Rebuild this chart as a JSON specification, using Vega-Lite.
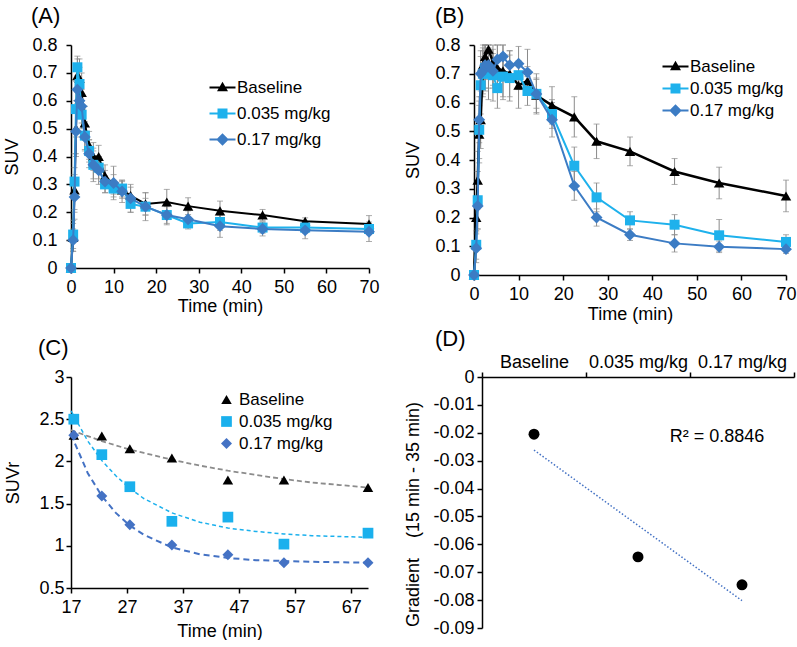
{
"$schema": "https://vega.github.io/schema/vega-lite/v6.json",
"background": "white",
"padding": {"left": 3, "top": 5, "right": 0, "bottom": 0},
"config": {
  "font": "Liberation Sans",
  "view": {"stroke": null},
  "axis": {"domainColor": "black", "domainWidth": 1.5, "tickColor": "black", "tickWidth": 1.5, "tickSize": 5, "labelFontSize": 18, "labelColor": "black", "titleFontSize": 18, "titleFontWeight": "normal", "titleColor": "black", "grid": false, "labelPadding": 4, "titlePadding": 4, "labelFlush": false, "labelOverlap": false},
  "axisY": {"labelPadding": 9, "titlePadding": 10},
  "axisX": {"labelPadding": 5},
  "title": {"anchor": "start", "frame": "group", "fontSize": 22, "fontWeight": "normal", "color": "black", "offset": 8},
  "legend": {"labelFontSize": 17, "labelColor": "black", "padding": 0}
},
"datasets": {
  "A": [
    {"t":0,"s":"Baseline","v":0,"e":0},{"t":0,"s":"0.035 mg/kg","v":0,"e":0},{"t":0,"s":"0.17 mg/kg","v":0,"e":0},
    {"t":0.5,"s":"Baseline","v":0.11,"e":0.05},{"t":0.5,"s":"0.035 mg/kg","v":0.12,"e":0.05},{"t":0.5,"s":"0.17 mg/kg","v":0.10,"e":0.04},
    {"t":0.83,"s":"Baseline","v":0.28,"e":0.08},{"t":0.83,"s":"0.035 mg/kg","v":0.31,"e":0.1},{"t":0.83,"s":"0.17 mg/kg","v":0.255,"e":0.08},
    {"t":1.17,"s":"Baseline","v":0.50,"e":0.1},{"t":1.17,"s":"0.035 mg/kg","v":0.57,"e":0.1},{"t":1.17,"s":"0.17 mg/kg","v":0.49,"e":0.08},
    {"t":1.5,"s":"Baseline","v":0.69,"e":0.06},{"t":1.5,"s":"0.035 mg/kg","v":0.72,"e":0.04},{"t":1.5,"s":"0.17 mg/kg","v":0.64,"e":0.05},
    {"t":2,"s":"Baseline","v":0.68,"e":0.07},{"t":2,"s":"0.035 mg/kg","v":0.66,"e":0.06},{"t":2,"s":"0.17 mg/kg","v":0.60,"e":0.05},
    {"t":2.5,"s":"Baseline","v":0.63,"e":0.07},{"t":2.5,"s":"0.035 mg/kg","v":0.55,"e":0.05},{"t":2.5,"s":"0.17 mg/kg","v":0.58,"e":0.06},
    {"t":3.25,"s":"Baseline","v":0.52,"e":0.06},{"t":3.25,"s":"0.035 mg/kg","v":0.475,"e":0.05},{"t":3.25,"s":"0.17 mg/kg","v":0.47,"e":0.05},
    {"t":4.25,"s":"Baseline","v":0.44,"e":0.05},{"t":4.25,"s":"0.035 mg/kg","v":0.42,"e":0.04},{"t":4.25,"s":"0.17 mg/kg","v":0.41,"e":0.05},
    {"t":5.25,"s":"Baseline","v":0.40,"e":0.05},{"t":5.25,"s":"0.035 mg/kg","v":0.37,"e":0.05},{"t":5.25,"s":"0.17 mg/kg","v":0.37,"e":0.06},
    {"t":6.5,"s":"Baseline","v":0.40,"e":0.04},{"t":6.5,"s":"0.035 mg/kg","v":0.36,"e":0.04},{"t":6.5,"s":"0.17 mg/kg","v":0.35,"e":0.05},
    {"t":8,"s":"Baseline","v":0.33,"e":0.04},{"t":8,"s":"0.035 mg/kg","v":0.30,"e":0.03},{"t":8,"s":"0.17 mg/kg","v":0.31,"e":0.04},
    {"t":10,"s":"Baseline","v":0.30,"e":0.035},{"t":10,"s":"0.035 mg/kg","v":0.285,"e":0.03},{"t":10,"s":"0.17 mg/kg","v":0.305,"e":0.06},
    {"t":12,"s":"Baseline","v":0.28,"e":0.03},{"t":12,"s":"0.035 mg/kg","v":0.285,"e":0.03},{"t":12,"s":"0.17 mg/kg","v":0.275,"e":0.04},
    {"t":14,"s":"Baseline","v":0.26,"e":0.03},{"t":14,"s":"0.035 mg/kg","v":0.23,"e":0.03},{"t":14,"s":"0.17 mg/kg","v":0.25,"e":0.05},
    {"t":17.5,"s":"Baseline","v":0.23,"e":0.04},{"t":17.5,"s":"0.035 mg/kg","v":0.22,"e":0.03},{"t":17.5,"s":"0.17 mg/kg","v":0.22,"e":0.05},
    {"t":22.5,"s":"Baseline","v":0.237,"e":0.045},{"t":22.5,"s":"0.035 mg/kg","v":0.19,"e":0.03},{"t":22.5,"s":"0.17 mg/kg","v":0.19,"e":0.035},
    {"t":27.5,"s":"Baseline","v":0.222,"e":0.03},{"t":27.5,"s":"0.035 mg/kg","v":0.16,"e":0.02},{"t":27.5,"s":"0.17 mg/kg","v":0.175,"e":0.03},
    {"t":35,"s":"Baseline","v":0.205,"e":0.035},{"t":35,"s":"0.035 mg/kg","v":0.165,"e":0.03},{"t":35,"s":"0.17 mg/kg","v":0.15,"e":0.04},
    {"t":45,"s":"Baseline","v":0.19,"e":0.02},{"t":45,"s":"0.035 mg/kg","v":0.145,"e":0.02},{"t":45,"s":"0.17 mg/kg","v":0.14,"e":0.025},
    {"t":55,"s":"Baseline","v":0.168,"e":0.012},{"t":55,"s":"0.035 mg/kg","v":0.145,"e":0.02},{"t":55,"s":"0.17 mg/kg","v":0.135,"e":0.03},
    {"t":70,"s":"Baseline","v":0.158,"e":0.03},{"t":70,"s":"0.035 mg/kg","v":0.14,"e":0.02},{"t":70,"s":"0.17 mg/kg","v":0.13,"e":0.035}
  ],
  "B": [
    {"t":0,"s":"Baseline","v":0,"e":0},{"t":0,"s":"0.035 mg/kg","v":0,"e":0},{"t":0,"s":"0.17 mg/kg","v":0,"e":0},
    {"t":0.5,"s":"Baseline","v":0.20,"e":0.05},{"t":0.5,"s":"0.035 mg/kg","v":0.105,"e":0.05},{"t":0.5,"s":"0.17 mg/kg","v":0.093,"e":0.05},
    {"t":0.83,"s":"Baseline","v":0.33,"e":0.1},{"t":0.83,"s":"0.035 mg/kg","v":0.26,"e":0.1},{"t":0.83,"s":"0.17 mg/kg","v":0.24,"e":0.08},
    {"t":1.17,"s":"Baseline","v":0.49,"e":0.1},{"t":1.17,"s":"0.035 mg/kg","v":0.505,"e":0.1},{"t":1.17,"s":"0.17 mg/kg","v":0.54,"e":0.08},
    {"t":1.5,"s":"Baseline","v":0.54,"e":0.1},{"t":1.5,"s":"0.035 mg/kg","v":0.66,"e":0.1},{"t":1.5,"s":"0.17 mg/kg","v":0.70,"e":0.08},
    {"t":2,"s":"Baseline","v":0.73,"e":0.08},{"t":2,"s":"0.035 mg/kg","v":0.70,"e":0.08},{"t":2,"s":"0.17 mg/kg","v":0.71,"e":0.08},
    {"t":2.5,"s":"Baseline","v":0.76,"e":0.08},{"t":2.5,"s":"0.035 mg/kg","v":0.72,"e":0.08},{"t":2.5,"s":"0.17 mg/kg","v":0.73,"e":0.08},
    {"t":3.25,"s":"Baseline","v":0.785,"e":0.07},{"t":3.25,"s":"0.035 mg/kg","v":0.70,"e":0.09},{"t":3.25,"s":"0.17 mg/kg","v":0.73,"e":0.08},
    {"t":4.25,"s":"Baseline","v":0.74,"e":0.08},{"t":4.25,"s":"0.035 mg/kg","v":0.695,"e":0.09},{"t":4.25,"s":"0.17 mg/kg","v":0.71,"e":0.06},
    {"t":5.25,"s":"Baseline","v":0.72,"e":0.08},{"t":5.25,"s":"0.035 mg/kg","v":0.65,"e":0.07},{"t":5.25,"s":"0.17 mg/kg","v":0.75,"e":0.05},
    {"t":6.5,"s":"Baseline","v":0.71,"e":0.09},{"t":6.5,"s":"0.035 mg/kg","v":0.69,"e":0.08},{"t":6.5,"s":"0.17 mg/kg","v":0.76,"e":0.05},
    {"t":8,"s":"Baseline","v":0.70,"e":0.08},{"t":8,"s":"0.035 mg/kg","v":0.685,"e":0.08},{"t":8,"s":"0.17 mg/kg","v":0.73,"e":0.05},
    {"t":10,"s":"Baseline","v":0.66,"e":0.08},{"t":10,"s":"0.035 mg/kg","v":0.695,"e":0.05},{"t":10,"s":"0.17 mg/kg","v":0.735,"e":0.06},
    {"t":12,"s":"Baseline","v":0.675,"e":0.05},{"t":12,"s":"0.035 mg/kg","v":0.64,"e":0.05},{"t":12,"s":"0.17 mg/kg","v":0.705,"e":0.08},
    {"t":14,"s":"Baseline","v":0.625,"e":0.06},{"t":14,"s":"0.035 mg/kg","v":0.63,"e":0.05},{"t":14,"s":"0.17 mg/kg","v":0.63,"e":0.07},
    {"t":17.5,"s":"Baseline","v":0.59,"e":0.065},{"t":17.5,"s":"0.035 mg/kg","v":0.56,"e":0.05},{"t":17.5,"s":"0.17 mg/kg","v":0.54,"e":0.06},
    {"t":22.5,"s":"Baseline","v":0.55,"e":0.07},{"t":22.5,"s":"0.035 mg/kg","v":0.38,"e":0.065},{"t":22.5,"s":"0.17 mg/kg","v":0.31,"e":0.05},
    {"t":27.5,"s":"Baseline","v":0.465,"e":0.06},{"t":27.5,"s":"0.035 mg/kg","v":0.27,"e":0.05},{"t":27.5,"s":"0.17 mg/kg","v":0.20,"e":0.03},
    {"t":35,"s":"Baseline","v":0.43,"e":0.05},{"t":35,"s":"0.035 mg/kg","v":0.19,"e":0.03},{"t":35,"s":"0.17 mg/kg","v":0.14,"e":0.02},
    {"t":45,"s":"Baseline","v":0.36,"e":0.045},{"t":45,"s":"0.035 mg/kg","v":0.175,"e":0.035},{"t":45,"s":"0.17 mg/kg","v":0.11,"e":0.03},
    {"t":55,"s":"Baseline","v":0.32,"e":0.055},{"t":55,"s":"0.035 mg/kg","v":0.138,"e":0.055},{"t":55,"s":"0.17 mg/kg","v":0.098,"e":0.02},
    {"t":70,"s":"Baseline","v":0.275,"e":0.055},{"t":70,"s":"0.035 mg/kg","v":0.115,"e":0.025},{"t":70,"s":"0.17 mg/kg","v":0.09,"e":0.015}
  ],
  "C": [
    {"t":17.5,"s":"Baseline","v":2.31},{"t":22.5,"s":"Baseline","v":2.30},{"t":27.5,"s":"Baseline","v":2.15},{"t":35,"s":"Baseline","v":2.04},{"t":45,"s":"Baseline","v":1.78},{"t":55,"s":"Baseline","v":1.78},{"t":70,"s":"Baseline","v":1.69},
    {"t":17.5,"s":"0.035 mg/kg","v":2.50},{"t":22.5,"s":"0.035 mg/kg","v":2.08},{"t":27.5,"s":"0.035 mg/kg","v":1.70},{"t":35,"s":"0.035 mg/kg","v":1.29},{"t":45,"s":"0.035 mg/kg","v":1.34},{"t":55,"s":"0.035 mg/kg","v":1.02},{"t":70,"s":"0.035 mg/kg","v":1.15},
    {"t":17.5,"s":"0.17 mg/kg","v":2.31},{"t":22.5,"s":"0.17 mg/kg","v":1.59},{"t":27.5,"s":"0.17 mg/kg","v":1.25},{"t":35,"s":"0.17 mg/kg","v":1.01},{"t":45,"s":"0.17 mg/kg","v":0.895},{"t":55,"s":"0.17 mg/kg","v":0.80},{"t":70,"s":"0.17 mg/kg","v":0.80}
  ],
  "Cfit": [
    {"t":17,"s":"Baseline","v":2.37},{"t":20,"s":"Baseline","v":2.30},{"t":22.5,"s":"Baseline","v":2.24},{"t":25,"s":"Baseline","v":2.19},{"t":27.5,"s":"Baseline","v":2.14},{"t":30,"s":"Baseline","v":2.10},{"t":35,"s":"Baseline","v":2.02},{"t":40,"s":"Baseline","v":1.95},{"t":45,"s":"Baseline","v":1.89},{"t":50,"s":"Baseline","v":1.84},{"t":55,"s":"Baseline","v":1.79},{"t":60,"s":"Baseline","v":1.75},{"t":65,"s":"Baseline","v":1.72},{"t":70,"s":"Baseline","v":1.69},
    {"t":17,"s":"0.035 mg/kg","v":2.60},{"t":20,"s":"0.035 mg/kg","v":2.24},{"t":22.5,"s":"0.035 mg/kg","v":2.01},{"t":25,"s":"0.035 mg/kg","v":1.83},{"t":27.5,"s":"0.035 mg/kg","v":1.68},{"t":30,"s":"0.035 mg/kg","v":1.56},{"t":35,"s":"0.035 mg/kg","v":1.39},{"t":40,"s":"0.035 mg/kg","v":1.28},{"t":45,"s":"0.035 mg/kg","v":1.21},{"t":50,"s":"0.035 mg/kg","v":1.17},{"t":55,"s":"0.035 mg/kg","v":1.14},{"t":60,"s":"0.035 mg/kg","v":1.12},{"t":65,"s":"0.035 mg/kg","v":1.11},{"t":70,"s":"0.035 mg/kg","v":1.10},
    {"t":17,"s":"0.17 mg/kg","v":2.32},{"t":20,"s":"0.17 mg/kg","v":1.86},{"t":22.5,"s":"0.17 mg/kg","v":1.59},{"t":25,"s":"0.17 mg/kg","v":1.39},{"t":27.5,"s":"0.17 mg/kg","v":1.24},{"t":30,"s":"0.17 mg/kg","v":1.13},{"t":35,"s":"0.17 mg/kg","v":0.98},{"t":40,"s":"0.17 mg/kg","v":0.90},{"t":45,"s":"0.17 mg/kg","v":0.856},{"t":50,"s":"0.17 mg/kg","v":0.83},{"t":55,"s":"0.17 mg/kg","v":0.82},{"t":60,"s":"0.17 mg/kg","v":0.81},{"t":65,"s":"0.17 mg/kg","v":0.805},{"t":70,"s":"0.17 mg/kg","v":0.80}
  ],
  "D": [
    {"g":"Baseline","v":-0.0205},{"g":"0.035 mg/kg","v":-0.0645},{"g":"0.17 mg/kg","v":-0.0745}
  ],
  "Dfit": [
    {"g":"Baseline","v":-0.0262},{"g":"0.17 mg/kg","v":-0.0802}
  ],
  "Dtext": [
    {"g":"0.17 mg/kg","v":-0.0215,"label":"R² = 0.8846"}
  ]
},
"columns": 2,
"align": {"row": "each", "column": "none"},
"spacing": {"row": 5, "column": 24},
"resolve": {"scale": {"x": "independent", "y": "independent", "color": "independent", "shape": "independent", "fill": "independent", "stroke": "independent", "size": "independent"}, "axis": {"x": "independent", "y": "independent"}, "legend": {"color": "independent", "shape": "independent", "fill": "independent", "stroke": "independent", "size": "independent"}},
"concat": [
   {
    "width": 298, "height": 223,
    "title": {"text": "(A)", "dx": -40},
    "data": {"name": "A"},
    "encoding": {
      "x": {"field": "t", "type": "quantitative", "scale": {"domain": [0, 70], "nice": false}, "axis": {"values": [0,10,20,30,40,50,60,70], "title": "Time (min)", "titlePadding": 1}},
      "y": {"field": "v", "type": "quantitative", "scale": {"domain": [0, 0.8], "nice": false, "clamp": true}, "axis": {"values": [0,0.1,0.2,0.3,0.4,0.5,0.6,0.7,0.8], "format": ".1~f", "title": "SUV"}}
    },
    "layer": [
      {"mark": {"type": "errorbar", "ticks": true, "size": 6, "thickness": 1, "color": "#8a8a8a"}, "encoding": {"yError": {"field": "e"}}},
      {"transform": [{"filter": "datum.s == 'Baseline'"}], "mark": {"type": "line", "color": "black", "strokeWidth": 2}, "encoding": {}},
      {"transform": [{"filter": "datum.s == 'Baseline'"}], "mark": {"type": "point", "shape": "triangle-up", "filled": true, "color": "black", "size": 110, "opacity": 1}, "encoding": {}},
      {"transform": [{"filter": "datum.s == '0.035 mg/kg'"}], "mark": {"type": "line", "color": "#1eb1ec", "strokeWidth": 2}, "encoding": {}},
      {"transform": [{"filter": "datum.s == '0.035 mg/kg'"}], "mark": {"type": "point", "shape": "square", "filled": true, "color": "#1eb1ec", "size": 100, "opacity": 1}, "encoding": {}},
      {"transform": [{"filter": "datum.s == '0.17 mg/kg'"}], "mark": {"type": "line", "color": "#3c7cc4", "strokeWidth": 2}, "encoding": {}},
      {"transform": [{"filter": "datum.s == '0.17 mg/kg'"}], "mark": {"type": "point", "shape": "diamond", "filled": true, "color": "#3c7cc4", "size": 140, "opacity": 1}, "encoding": {}},
      {"mark": {"type": "point", "opacity": 0, "filled": true},
       "encoding": {
        "shape": {"field": "s", "type": "nominal", "scale": {"domain": ["Baseline", "0.035 mg/kg", "0.17 mg/kg"], "range": ["M-2.6,-0.2H2.6V0.2H-2.6ZM0,-1.15L1.1,0.75L-1.1,0.75Z", "M-2.6,-0.2H2.6V0.2H-2.6ZM-1,-1H1V1H-1Z", "M-2.6,-0.2H2.6V0.2H-2.6ZM0,-1.25L1.25,0L0,1.25L-1.25,0Z"]},
          "legend": {"title": null, "orient": "none", "legendX": 143, "legendY": 34, "symbolSize": 100, "labelFontSize": 17, "labelOffset": 6, "rowPadding": 8, "symbolOpacity": 1}},
        "color": {"field": "s", "type": "nominal", "scale": {"domain": ["Baseline", "0.035 mg/kg", "0.17 mg/kg"], "range": ["black", "#1eb1ec", "#3c7cc4"]},
          "legend": {"title": null, "orient": "none", "legendX": 143, "legendY": 34, "symbolSize": 100, "labelFontSize": 17, "labelOffset": 6, "rowPadding": 8, "symbolOpacity": 1}}
       }}
    ]
   },
   {
    "width": 312, "height": 230,
    "title": {"text": "(B)", "dx": -39},
    "data": {"name": "B"},
    "encoding": {
      "x": {"field": "t", "type": "quantitative", "scale": {"domain": [0, 70], "nice": false}, "axis": {"values": [0,10,20,30,40,50,60,70], "title": "Time (min)", "titlePadding": 2}},
      "y": {"field": "v", "type": "quantitative", "scale": {"domain": [0, 0.8], "nice": false, "clamp": true}, "axis": {"values": [0,0.1,0.2,0.3,0.4,0.5,0.6,0.7,0.8], "format": ".1~f", "title": "SUV", "titlePadding": 12}}
    },
    "layer": [
      {"mark": {"type": "errorbar", "ticks": true, "size": 6, "thickness": 1, "color": "#8a8a8a"}, "encoding": {"yError": {"field": "e"}}},
      {"transform": [{"filter": "datum.s == 'Baseline'"}], "mark": {"type": "line", "color": "black", "strokeWidth": 2.5}, "encoding": {}},
      {"transform": [{"filter": "datum.s == 'Baseline'"}], "mark": {"type": "point", "shape": "triangle-up", "filled": true, "color": "black", "size": 110, "opacity": 1}, "encoding": {}},
      {"transform": [{"filter": "datum.s == '0.035 mg/kg'"}], "mark": {"type": "line", "color": "#1eb1ec", "strokeWidth": 2}, "encoding": {}},
      {"transform": [{"filter": "datum.s == '0.035 mg/kg'"}], "mark": {"type": "point", "shape": "square", "filled": true, "color": "#1eb1ec", "size": 100, "opacity": 1}, "encoding": {}},
      {"transform": [{"filter": "datum.s == '0.17 mg/kg'"}], "mark": {"type": "line", "color": "#3c7cc4", "strokeWidth": 2}, "encoding": {}},
      {"transform": [{"filter": "datum.s == '0.17 mg/kg'"}], "mark": {"type": "point", "shape": "diamond", "filled": true, "color": "#3c7cc4", "size": 140, "opacity": 1}, "encoding": {}},
      {"mark": {"type": "point", "opacity": 0, "filled": true},
       "encoding": {
        "shape": {"field": "s", "type": "nominal", "scale": {"domain": ["Baseline", "0.035 mg/kg", "0.17 mg/kg"], "range": ["M-2.6,-0.2H2.6V0.2H-2.6ZM0,-1.15L1.1,0.75L-1.1,0.75Z", "M-2.6,-0.2H2.6V0.2H-2.6ZM-1,-1H1V1H-1Z", "M-2.6,-0.2H2.6V0.2H-2.6ZM0,-1.25L1.25,0L0,1.25L-1.25,0Z"]},
          "legend": {"title": null, "orient": "none", "legendX": 193, "legendY": 13, "symbolSize": 100, "labelFontSize": 17, "labelOffset": 6, "rowPadding": 4, "symbolOpacity": 1}},
        "color": {"field": "s", "type": "nominal", "scale": {"domain": ["Baseline", "0.035 mg/kg", "0.17 mg/kg"], "range": ["black", "#1eb1ec", "#3c7cc4"]},
          "legend": {"title": null, "orient": "none", "legendX": 193, "legendY": 13, "symbolSize": 100, "labelFontSize": 17, "labelOffset": 6, "rowPadding": 4, "symbolOpacity": 1}}
       }}
    ]
   },
   {
    "width": 297, "height": 211,
    "title": {"text": "(C)", "dx": -33},
    "encoding": {
      "x": {"field": "t", "type": "quantitative", "scale": {"domain": [17, 70], "nice": false}, "axis": {"values": [17,27,37,47,57,67], "title": "Time (min)", "titlePadding": 6}},
      "y": {"field": "v", "type": "quantitative", "scale": {"domain": [0.5, 3], "nice": false}, "axis": {"values": [0.5,1,1.5,2,2.5,3], "format": ".1~f", "title": "SUVr", "labelPadding": 2, "titlePadding": 16}}
    },
    "layer": [
      {"data": {"name": "Cfit"}, "transform": [{"filter": "datum.s == 'Baseline'"}], "mark": {"type": "line", "color": "#8c8c8c", "strokeWidth": 1.8, "strokeDash": [5, 3]}, "encoding": {}},
      {"data": {"name": "Cfit"}, "transform": [{"filter": "datum.s == '0.035 mg/kg'"}], "mark": {"type": "line", "color": "#1ab0ed", "strokeWidth": 1.5, "strokeDash": [4, 3]}, "encoding": {}},
      {"data": {"name": "Cfit"}, "transform": [{"filter": "datum.s == '0.17 mg/kg'"}], "mark": {"type": "line", "color": "#4472c4", "strokeWidth": 2, "strokeDash": [6, 4]}, "encoding": {}},
      {"data": {"name": "C"}, "mark": {"type": "point", "filled": true, "opacity": 1},
       "encoding": {
        "shape": {"field": "s", "type": "nominal", "scale": {"domain": ["Baseline", "0.035 mg/kg", "0.17 mg/kg"], "range": ["triangle-up", "square", "diamond"]}, "legend": {"title": null, "orient": "none", "legendX": 147, "legendY": 14, "symbolSize": 90, "labelFontSize": 17, "labelOffset": 4, "rowPadding": 4}},
        "color": {"field": "s", "type": "nominal", "scale": {"domain": ["Baseline", "0.035 mg/kg", "0.17 mg/kg"], "range": ["black", "#1ab0ed", "#4472c4"]}, "legend": {"title": null, "orient": "none", "legendX": 147, "legendY": 14, "symbolSize": 90, "labelFontSize": 17, "labelOffset": 4, "rowPadding": 4}},
        "size": {"field": "s", "type": "nominal", "scale": {"domain": ["Baseline", "0.035 mg/kg", "0.17 mg/kg"], "range": [110, 120, 140]}, "legend": null}
       }}
    ]
   },
   {
    "width": 312, "height": 251,
    "title": {"text": "(D)", "dx": -47, "offset": 2},
    "encoding": {
      "x": {"field": "g", "type": "nominal", "sort": null, "scale": {"type": "band", "domain": ["Baseline", "0.035 mg/kg", "0.17 mg/kg"], "paddingInner": 0, "paddingOuter": 0}, "axis": {"orient": "top", "tickBand": "extent", "title": null, "labelAngle": 0, "labelPadding": 1}},
      "y": {"field": "v", "type": "quantitative", "scale": {"domain": [-0.09, 0], "nice": false}, "axis": {"values": [0,-0.01,-0.02,-0.03,-0.04,-0.05,-0.06,-0.07,-0.08,-0.09], "labelExpr": "replace(format(datum.value, '.2~f'), '\u2212', '-')", "title": "Gradient\u00a0\u00a0\u00a0 (15 min - 35 min)", "labelPadding": 3, "titlePadding": 10, "titleY": 137}}
    },
    "layer": [
      {"data": {"name": "Dfit"}, "mark": {"type": "line", "color": "#4472c4", "strokeWidth": 1.5, "strokeDash": [1.5, 2]}, "encoding": {}},
      {"data": {"name": "D"}, "mark": {"type": "circle", "size": 120, "color": "black", "opacity": 1}, "encoding": {}},
      {"data": {"name": "Dtext"}, "mark": {"type": "text", "fontSize": 18, "dx": -25, "color": "black"}, "encoding": {"text": {"field": "label"}}}
    ]
   }
]
}
